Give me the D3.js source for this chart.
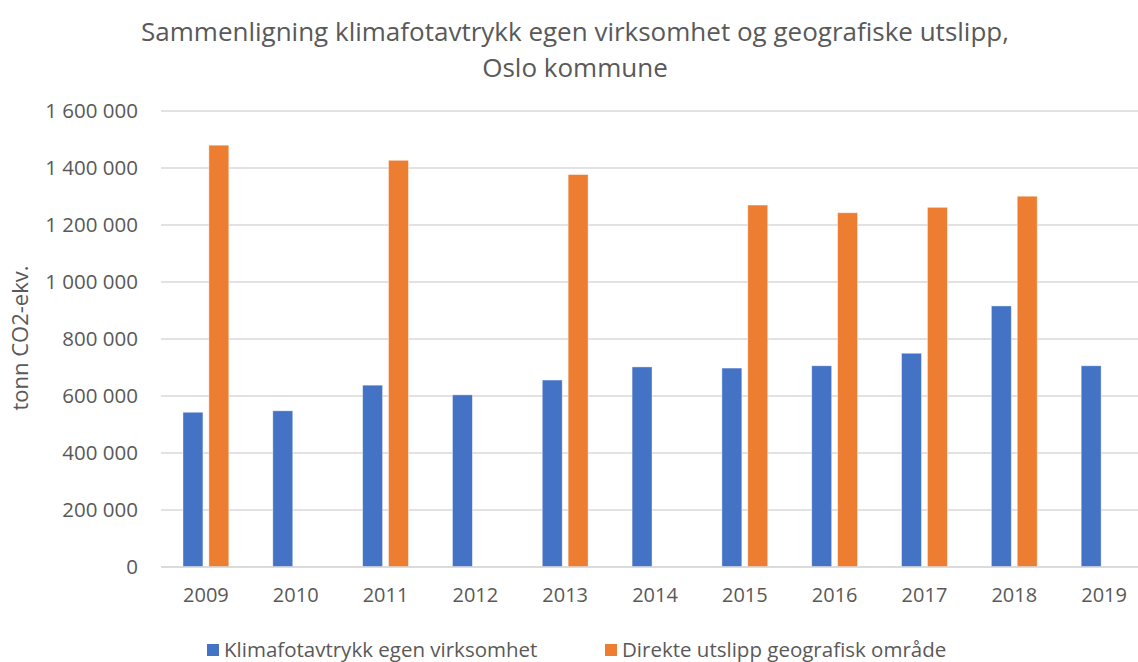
<!DOCTYPE html>
<html>
<head>
<meta charset="utf-8">
<script src="https://cdn.jsdelivr.net/npm/d3@7"></script>
<style>
  body { margin: 0; background: #fff; }
  svg { display: block; font-family: "Open Sans", "Noto Sans", sans-serif; }
</style>
</head>
<body>
<svg id="chart" width="1138" height="662"></svg>
<script>
const years = ["2009", "2010", "2011", "2012", "2013", "2014", "2015", "2016", "2017", "2018", "2019"];
const seriesNames = ["Klimafotavtrykk egen virksomhet", "Direkte utslipp geografisk område"];
const klimafotavtrykk = [543000, 548000, 638000, 604000, 656000, 702000, 698000, 706000, 750000, 916000, 706000];
const direkteUtslipp = [1480000, null, 1427000, null, 1377000, null, 1270000, 1243000, 1262000, 1301000, null];
const yTicks = [0, 200000, 400000, 600000, 800000, 1000000, 1200000, 1400000, 1600000];
const titleLines = ["Sammenligning klimafotavtrykk egen virksomhet og geografiske utslipp,", "Oslo kommune"];
const yLabel = "tonn CO2-ekv.";
const colors = ["#4472C4", "#ED7D31"];

document.addEventListener("DOMContentLoaded", function() {
    const svg = d3.select("#chart");
    const W = +svg.attr("width");
    const left = 161, right = 1149, top = 111, bottom = 567;
    const textColor = "#595959";

    const fmt = d3.formatLocale({ decimal: ",", thousands: "\u00a0", grouping: [3], currency: ["", ""] }).format(",");

    const x0 = d3.scaleBand().domain(years).range([left, right]).padding(0);
    const x1 = d3.scaleBand().domain([0, 1]).range([0, x0.bandwidth()]).paddingInner(0.23).paddingOuter(0.85);
    const y = d3.scaleLinear().domain([0, 1600000]).range([bottom, top]);

    // title, two lines
    svg.append("g").selectAll("text").data(titleLines).enter().append("text")
        .attr("x", 575)
        .attr("y", (d, i) => 41 + i * 36)
        .attr("text-anchor", "middle")
        .style("font-size", "26px")
        .style("fill", textColor)
        .text(d => d);

    // gridlines
    svg.append("g").selectAll("line").data(yTicks).enter().append("line")
        .attr("x1", left).attr("x2", W)
        .attr("y1", d => y(d)).attr("y2", d => y(d))
        .attr("stroke", "#D9D9D9")
        .attr("stroke-width", 1.3);

    // y axis labels
    const yAxis = svg.append("g")
        .attr("transform", `translate(${left},0)`)
        .call(d3.axisLeft(y).tickValues(yTicks).tickFormat(fmt).tickSize(0).tickPadding(23));
    yAxis.select(".domain").remove();
    yAxis.selectAll("text")
        .style("font-family", "\"Open Sans\", sans-serif")
        .style("font-size", "20.5px")
        .style("fill", textColor);

    // x axis labels
    const xAxis = svg.append("g")
        .attr("transform", `translate(0,${bottom})`)
        .call(d3.axisBottom(x0).tickSize(0).tickPadding(21));
    xAxis.select(".domain").remove();
    xAxis.selectAll("text")
        .style("font-family", "\"Open Sans\", sans-serif")
        .style("font-size", "20px")
        .style("fill", textColor);

    // bars
    const rows = years.map((yr, i) => ({ year: yr, values: [klimafotavtrykk[i], direkteUtslipp[i]] }));
    const groups = svg.append("g").selectAll("g").data(rows).enter().append("g")
        .attr("transform", d => `translate(${x0(d.year)},0)`);
    groups.selectAll("rect")
        .data(d => d.values.map((v, k) => ({ k: k, v: v })).filter(d => d.v != null))
        .enter().append("rect")
        .attr("x", d => x1(d.k))
        .attr("y", d => y(d.v))
        .attr("width", x1.bandwidth())
        .attr("height", d => y(0) - y(d.v))
        .attr("fill", d => colors[d.k])
        .attr("stroke", "#fff")
        .attr("stroke-opacity", 0.5)
        .attr("stroke-width", 0.8);

    // baseline
    svg.append("line")
        .attr("x1", left).attr("x2", W)
        .attr("y1", bottom).attr("y2", bottom)
        .attr("stroke", "#D9D9D9")
        .attr("stroke-width", 1.5);

    // y label
    svg.append("text")
        .attr("transform", "translate(28,338) rotate(-90)")
        .attr("text-anchor", "middle")
        .style("font-size", "22px")
        .style("fill", textColor)
        .text(yLabel);

    // legend
    const legendX = [207, 605];
    const legend = svg.append("g").selectAll("g").data(seriesNames).enter().append("g")
        .attr("transform", (d, i) => `translate(${legendX[i]},644)`);
    legend.append("rect")
        .attr("width", 12).attr("height", 12)
        .attr("fill", (d, i) => colors[i]);
    legend.append("text")
        .attr("x", 17).attr("y", 13)
        .style("font-size", "20.5px")
        .style("fill", textColor)
        .text(d => d);
});
</script>
</body>
</html>
